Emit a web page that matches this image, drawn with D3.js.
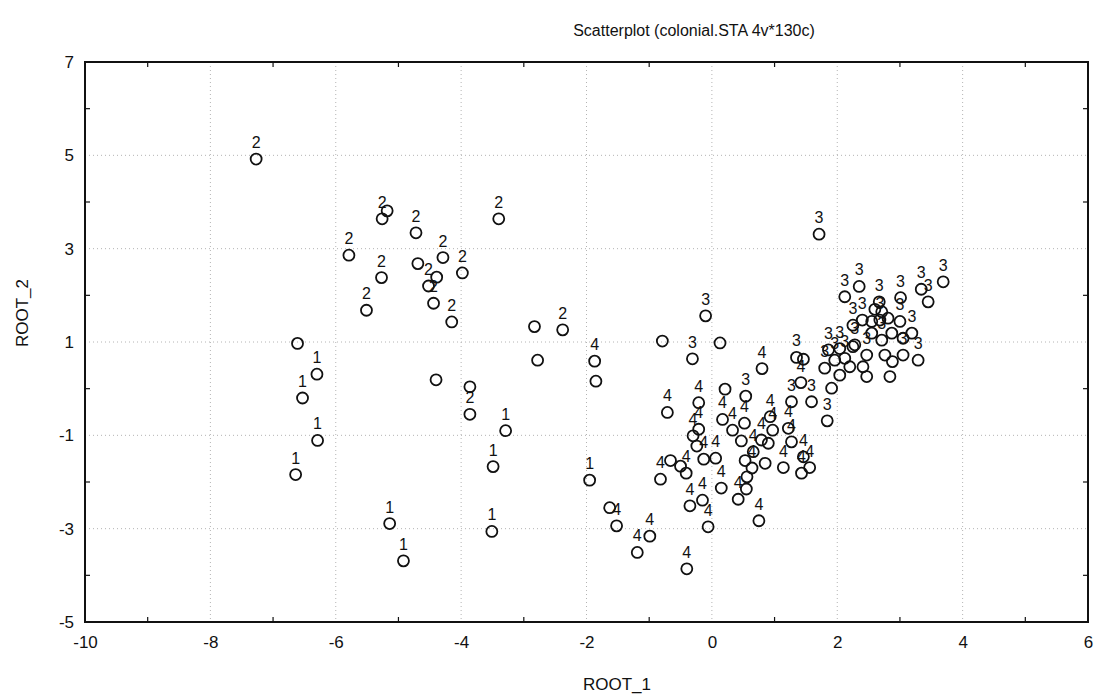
<!DOCTYPE html>
<html>
<head>
<meta charset="utf-8">
<script src="https://cdn.jsdelivr.net/npm/d3@7"></script>
<style>
  body{margin:0;background:#fff;}
  text{font-family:"Liberation Sans",Arial,sans-serif;fill:#111;}
</style>
</head>
<body>
<div id="chart"></div>
<script>
// canonical scores, group label drawn above each point ("" = no label shown)
var root1=[
  -7.27,-5.18,-5.26,-4.72,-5.79,-4.69,-4.29,-5.27,-4.39,-4.52,-3.98,-5.51,-4.44,-4.15,-3.40,-2.83,-2.38,-2.78,-4.40,-3.86,-3.86,
  -6.61,-6.30,-6.53,-6.29,-6.64,-3.29,-3.49,-5.14,-4.92,-3.51,-1.95,
  -1.87,-1.85,-0.79,-0.31,-0.10,0.13,1.71,0.80,1.35,1.46,1.42,1.27,1.59,1.84,1.91,
  -0.71,-0.21,0.21,0.17,0.54,0.33,0.52,-0.21,-0.30,-0.24,-0.13,0.06,-0.66,-0.50,-0.41,-0.82,
  0.47,0.66,0.53,0.64,0.56,0.93,0.97,1.22,0.79,0.90,1.27,0.85,1.14,1.46,1.56,1.43,
  0.15,0.42,0.55,-0.15,-0.35,-0.06,0.75,-1.63,-1.52,-0.99,-1.19,-0.40,
  2.12,2.35,3.01,3.34,3.45,3.69,2.67,2.71,2.40,2.55,2.68,2.81,3.00,3.19,2.87,2.55,2.25,2.28,2.71,3.05,
  3.29,2.76,3.05,2.88,2.47,2.41,2.84,2.47,2.04,1.80,1.96,2.12,2.20,2.04,1.86,2.25,2.60
];
var root2=[
  4.92,3.81,3.64,3.34,2.86,2.68,2.81,2.38,2.39,2.20,2.48,1.68,1.83,1.43,3.64,1.33,1.26,0.61,0.19,0.04,-0.55,
  0.97,0.31,-0.20,-1.11,-1.84,-0.90,-1.67,-2.89,-3.69,-3.06,-1.96,
  0.59,0.16,1.02,0.64,1.56,0.98,3.31,0.43,0.67,0.63,0.13,-0.28,-0.28,-0.69,0.01,
  -0.51,-0.30,-0.01,-0.66,-0.16,-0.89,-0.74,-0.87,-1.01,-1.23,-1.51,-1.49,-1.54,-1.66,-1.81,-1.94,
  -1.12,-1.35,-1.54,-1.70,-1.89,-0.60,-0.89,-0.85,-1.10,-1.17,-1.14,-1.60,-1.69,-1.46,-1.69,-1.81,
  -2.13,-2.37,-2.15,-2.39,-2.51,-2.96,-2.83,-2.55,-2.94,-3.16,-3.51,-3.86,
  1.97,2.19,1.95,2.13,1.86,2.29,1.86,1.65,1.47,1.44,1.47,1.51,1.44,1.19,1.19,1.19,1.36,0.94,1.04,1.08,
  0.61,0.72,0.72,0.58,0.72,0.47,0.26,0.26,0.29,0.44,0.61,0.65,0.47,0.86,0.83,0.90,1.70
];
var group=[
  "2","","2","2","2","","2","2","","2","2","2","2","2","2","","2","","","","2",
  "","1","1","1","1","1","1","1","1","1","1",
  "4","","","3","3","","3","4","3","","4","3","3","3","",
  "4","4","","4","3","4","4","4","4","","4","4","","","4","4",
  "","4","","4","","4","4","4","4","","4","","4","4","4","4",
  "4","4","","4","4","4","4","","4","4","4","4",
  "3","3","3","3","3","3","3","","3","","3","","3","3","","","3","3","3","",
  "3","","3","","3","","","","","3","3","3","","3","3","",""
];

var xTicks=[-10,-8,-6,-4,-2,0,2,4,6];
var yTicks=[-5,-3,-1,1,3,5,7];
var xMinor=[-9,-7,-5,-3,-1,1,3,5];
var yMinor=[-4,-2,0,2,4,6];

var title="Scatterplot (colonial.STA 4v*130c)";
var xLabel="ROOT_1";
var yLabel="ROOT_2";

var screen={width:1095,height:695};
var margin={top:62,right:7,bottom:73,left:85};
var w=screen.width-margin.left-margin.right;
var h=screen.height-margin.top-margin.bottom;

var svg=d3.select("#chart").append("svg")
    .attr("width",screen.width)
    .attr("height",screen.height);

var x=d3.scaleLinear().domain([-10,6]).range([margin.left,margin.left+w]);
var y=d3.scaleLinear().domain([-5,7]).range([margin.top+h,margin.top]);

// plain hyphen for negatives, like the original
var fmt=function(d){return String(d)};

// dotted grid
svg.append("g").selectAll("line")
    .data(xTicks.slice(1,-1))
    .enter().append("line")
    .attr("x1",function(d){return x(d)})
    .attr("x2",function(d){return x(d)})
    .attr("y1",margin.top)
    .attr("y2",margin.top+h)
    .style("stroke","#b4b4b4")
    .style("stroke-dasharray","1,3");
svg.append("g").selectAll("line")
    .data(yTicks.slice(1,-1))
    .enter().append("line")
    .attr("x1",margin.left)
    .attr("x2",margin.left+w)
    .attr("y1",function(d){return y(d)})
    .attr("y2",function(d){return y(d)})
    .style("stroke","#b4b4b4")
    .style("stroke-dasharray","1,3");

// axes (labels only, frame drawn separately)
var xAxis=svg.append("g")
    .attr("transform","translate(0,"+(margin.top+h)+")")
    .call(d3.axisBottom(x).tickValues(xTicks).tickFormat(fmt).tickSize(0).tickPadding(14));
xAxis.select(".domain").remove();
xAxis.selectAll("text").style("font-size","17px");

var yAxis=svg.append("g")
    .attr("transform","translate("+margin.left+",0)")
    .call(d3.axisLeft(y).tickValues(yTicks).tickFormat(fmt).tickSize(0).tickPadding(11));
yAxis.select(".domain").remove();
yAxis.selectAll("text").style("font-size","17px");

// minor ticks inside the frame
var ticks=svg.append("g").style("stroke","#111").style("stroke-width",1.2);
xMinor.forEach(function(d){
  ticks.append("line").attr("x1",x(d)).attr("x2",x(d)).attr("y1",margin.top+h).attr("y2",margin.top+h-5);
  ticks.append("line").attr("x1",x(d)).attr("x2",x(d)).attr("y1",margin.top).attr("y2",margin.top+5);
});
yMinor.forEach(function(d){
  ticks.append("line").attr("x1",margin.left).attr("x2",margin.left+5).attr("y1",y(d)).attr("y2",y(d));
  ticks.append("line").attr("x1",margin.left+w).attr("x2",margin.left+w-5).attr("y1",y(d)).attr("y2",y(d));
});

// frame
svg.append("rect")
    .attr("x",margin.left)
    .attr("y",margin.top)
    .attr("width",w)
    .attr("height",h)
    .style("fill","none")
    .style("stroke","#111")
    .style("stroke-width",2);

// points
var pts=d3.range(root1.length);
svg.append("g").selectAll("circle")
    .data(pts)
    .enter().append("circle")
    .attr("cx",function(i){return x(root1[i])})
    .attr("cy",function(i){return y(root2[i])})
    .attr("r",5.5)
    .style("fill","none")
    .style("stroke","#111")
    .style("stroke-width",1.8);

svg.append("g").selectAll("text")
    .data(pts.filter(function(i){return group[i]!==""}))
    .enter().append("text")
    .attr("x",function(i){return x(root1[i])})
    .attr("y",function(i){return y(root2[i])-11})
    .attr("text-anchor","middle")
    .style("font-size","16px")
    .text(function(i){return group[i]});

// titles
svg.append("text")
    .attr("x",694)
    .attr("y",36)
    .attr("text-anchor","middle")
    .style("font-size","16px")
    .text(title);
svg.append("text")
    .attr("x",617)
    .attr("y",690)
    .attr("text-anchor","middle")
    .style("font-size","17px")
    .text(xLabel);
svg.append("text")
    .attr("transform","translate(28,313) rotate(-90)")
    .attr("text-anchor","middle")
    .style("font-size","17px")
    .text(yLabel);
</script>
</body>
</html>
